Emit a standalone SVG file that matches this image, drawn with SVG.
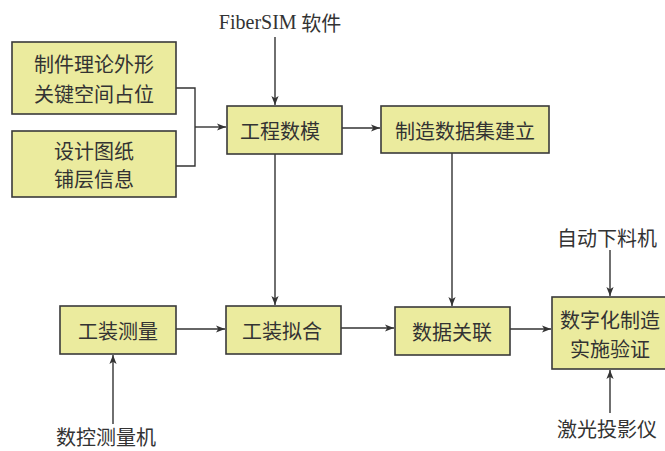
<svg xmlns="http://www.w3.org/2000/svg" width="665" height="451" viewBox="0 0 665 451">
<style>
.box{fill:#ebeb9e;stroke:#3a3a3a;stroke-width:1.6}
.t{font-family:"Noto Sans CJK SC","Noto Sans",sans-serif;font-size:20px;fill:#333;text-anchor:middle;dominant-baseline:central}
.ts{font-family:"Liberation Serif","Noto Sans CJK SC",serif}
.c{fill:none;stroke:#333;stroke-width:1.4}
</style>
<defs>
<marker id="a" viewBox="0 0 10 10" refX="10" refY="5" markerWidth="9" markerHeight="9" markerUnits="userSpaceOnUse" orient="auto">
<path d="M0,1 L10,5 L0,9 L2.5,5 Z" fill="#333"/>
</marker>
</defs>
<g id="connectors">
<path class="c" d="M176,88 H195 V166 H176"/>
<path class="c" d="M195,127 H226" marker-end="url(#a)"/>
<path class="c" d="M275,37 V105" marker-end="url(#a)"/>
<path class="c" d="M342,128 H380" marker-end="url(#a)"/>
<path class="c" d="M275,154 V305" marker-end="url(#a)"/>
<path class="c" d="M452,153 V306" marker-end="url(#a)"/>
<path class="c" d="M176,329 H225" marker-end="url(#a)"/>
<path class="c" d="M341,328 H394" marker-end="url(#a)"/>
<path class="c" d="M510,329 H551" marker-end="url(#a)"/>
<path class="c" d="M113,424 V355" marker-end="url(#a)"/>
<path class="c" d="M610,250 V296" marker-end="url(#a)"/>
<path class="c" d="M610,413 V370" marker-end="url(#a)"/>
</g>
<g id="n1"><rect class="box" x="12" y="42" width="164" height="72"/><text class="t" x="94" y="63">制件理论外形</text><text class="t" x="94" y="93">关键空间占位</text></g>
<g id="n2"><rect class="box" x="12" y="131" width="164" height="66"/><text class="t" x="94" y="150">设计图纸</text><text class="t" x="94" y="178">铺层信息</text></g>
<g id="n3"><rect class="box" x="227" y="106" width="115" height="48"/><text class="t" x="280" y="130">工程数模</text></g>
<g id="n4"><rect class="box" x="381" y="106" width="168" height="47"/><text class="t" x="465" y="130">制造数据集建立</text></g>
<g id="n5"><rect class="box" x="60" y="306" width="116" height="48"/><text class="t" x="118" y="330">工装测量</text></g>
<g id="n6"><rect class="box" x="226" y="306" width="115" height="48"/><text class="t" x="282" y="330">工装拟合</text></g>
<g id="n7"><rect class="box" x="395" y="307" width="115" height="48"/><text class="t" x="452" y="331">数据关联</text></g>
<g id="n8"><rect class="box" x="552" y="297" width="116" height="72"/><text class="t" x="610" y="319">数字化制造</text><text class="t" x="610" y="348">实施验证</text></g>
<g id="l1"><text class="t" x="280" y="22"><tspan class="ts">FiberSIM</tspan> 软件</text></g>
<g id="l2"><text class="t" x="106" y="436">数控测量机</text></g>
<g id="l3"><text class="t" x="607" y="237">自动下料机</text></g>
<g id="l4"><text class="t" x="607" y="428">激光投影仪</text></g>
</svg>
